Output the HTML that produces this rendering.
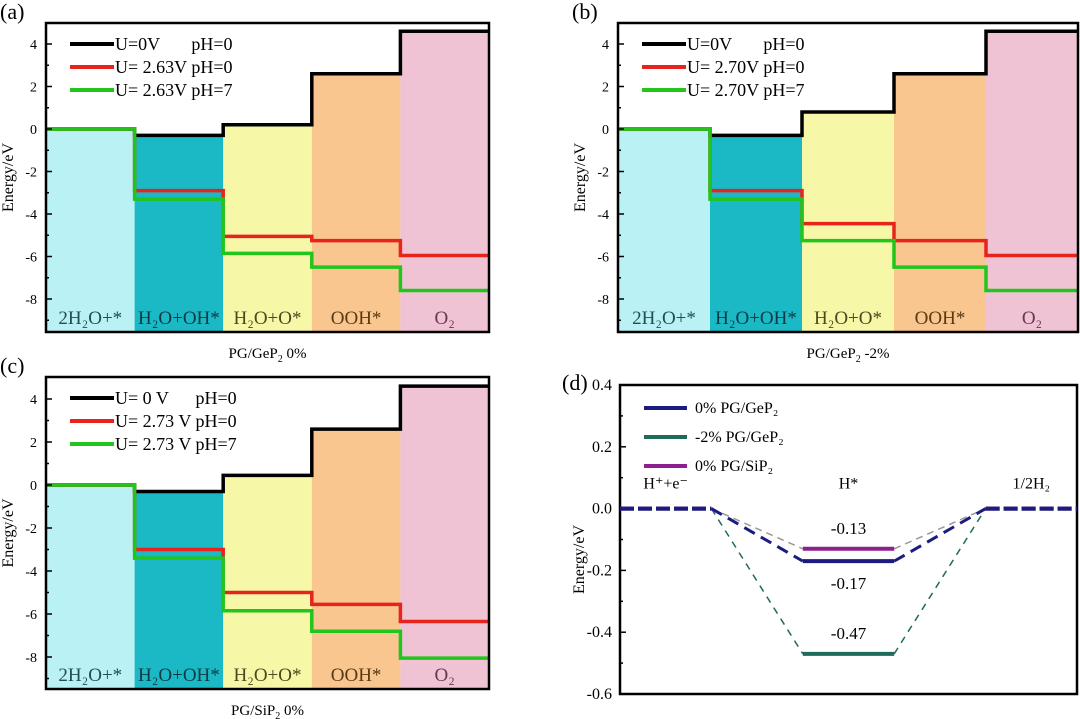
<!DOCTYPE html>
<html><head><meta charset="utf-8"><style>
html,body{margin:0;padding:0;background:#fff}
svg{display:block;font-family:"Liberation Serif",serif}
text{white-space:pre}
</style></head><body>
<svg id="c" width="1080" height="719" viewBox="0 0 1080 719"></svg>
<script>
const stages=["2H\u2082O+*","H\u2082O+OH*","H\u2082O+O*","OOH*","O\u2082"];
const yTicks=[4,2,0,-2,-4,-6,-8];
const aBlack=[0,-0.3,0.2,2.6,4.6], aRed=[0,-2.9,-5.05,-5.25,-5.95], aGreen=[0,-3.3,-5.85,-6.5,-7.6];
const bBlack=[0,-0.3,0.8,2.6,4.6], bRed=[0,-2.9,-4.45,-5.25,-5.95], bGreen=[0,-3.3,-5.25,-6.5,-7.6];
const cBlack=[0,-0.3,0.45,2.6,4.6], cRed=[0,-3.0,-5.0,-5.55,-6.35], cGreen=[0,-3.4,-5.85,-6.8,-8.05];
const aLeg=["U=0V       pH=0","U= 2.63V pH=0","U= 2.63V pH=7"];
const bLeg=["U=0V       pH=0","U= 2.70V pH=0","U= 2.70V pH=7"];
const cLeg=["U= 0 V      pH=0","U= 2.73 V pH=0","U= 2.73 V pH=7"];
const dStates=["H\u207a+e\u207b","H*","1/2H\u2082"];
const dGe0=[0,-0.17,0], dGe2=[0,-0.47,0], dSi0=[0,-0.13,0];
const dLabels=["0% PG/GeP\u2082","-2% PG/GeP\u2082","0% PG/SiP\u2082"];
const dTicks=[0.4,0.2,0.0,-0.2,-0.4,-0.6];
const svg=document.getElementById('c');
const NS='http://www.w3.org/2000/svg';
function el(t,a,p){const e=document.createElementNS(NS,t);for(const k in a)e.setAttribute(k,a[k]);(p||svg).appendChild(e);return e;}
const fills=["#b9f1f5","#1bb9c5","#f7f7a8","#f9c690","#efc3d4"];
const cols=["#000","#e8231c","#22c51c"];
function panel(id,x0,x1,y0,y1,yAt4,yAt0,series,leg,title,letter){
  const g=el('g',{});
  
  
  const k=(yAt0-yAt4)/4;
  const Y=v=>yAt0-v*k;
  const w=(x1-x0)/5;
  const X=i=>x0+i*w;
  const black=series[0];
  for(let i=0;i<5;i++){
    const top=i==0?Y(0):Y(black[i]);
    const r=el('rect',{x:X(i),y:top,width:w,height:y1-top,fill:fills[i]},g);
    
    
    const t=el('text',{x:X(i)+w/2,y:y1-8,'text-anchor':'middle','font-size':19,fill:['#1f4f55','#0d3a44','#4a4a20','#5a3a12','#6a3550'][i]},g);
    t.textContent=stages[i];
    
    
  }
  series.forEach((s,si)=>{
    let d='';
    s.forEach((v,i)=>{d+=(i?'L':'M')+X(i)+','+Y(v)+'L'+X(i+1)+','+Y(v);});
    const p=el('path',{d:d,fill:'none',stroke:cols[si],'stroke-width':3.5},g);
    
    
  });
  const b=el('rect',{x:x0,y:y0,width:x1-x0,height:y1-y0,fill:'none',stroke:'#000','stroke-width':2.5},g);
  
  
  yTicks.forEach(v=>{
    el('line',{x1:x0,x2:x0+6,y1:Y(v),y2:Y(v),stroke:'#000','stroke-width':1.5},g);
    el('line',{x1:x0,x2:x0+3,y1:Y(v-1),y2:Y(v-1),stroke:'#000','stroke-width':1.5},g);
    const t=el('text',{x:x0-9,y:Y(v)+5,'text-anchor':'end','font-size':14},g);
    t.textContent=v;
    
    
  });
  const yt=el('text',{transform:`translate(${x0-33},${(y0+y1)/2}) rotate(-90)`,'text-anchor':'middle','font-size':16},g);
  yt.textContent='Energy/eV';
  
  
  const xt=el('text',{x:(x0+x1)/2,y:y1+26,'text-anchor':'middle','font-size':15},g);
  xt.innerHTML=title;
  
  
  const lt=el('text',{x:x0-46,y:y0-4,'font-size':22},g);
  lt.textContent=letter;
  
  
  leg.forEach((s,i)=>{
    const yy=y0+21+i*23;
    const l=el('line',{x1:x0+24,x2:x0+68,y1:yy,y2:yy,stroke:cols[i],'stroke-width':4},g);
    
    
    const t=el('text',{x:x0+69,y:yy+6,'font-size':18},g);
    t.textContent=s;
    
    
  });
}
panel('a',46,489,23,332,44,129,[aBlack,aRed,aGreen],aLeg,'PG/GeP<tspan font-size="10" dy="4">2</tspan><tspan dy="-4"> 0%</tspan>','(a)');
panel('b',618,1078,23,332,44,129,[bBlack,bRed,bGreen],bLeg,'PG/GeP<tspan font-size="10" dy="4">2</tspan><tspan dy="-4"> -2%</tspan>','(b)');
panel('c',46,489,377,689,399,485,[cBlack,cRed,cGreen],cLeg,'PG/SiP<tspan font-size="10" dy="4">2</tspan><tspan dy="-4"> 0%</tspan>','(c)');
(function(){
  const x0=620,x1=1077,y0=385,y1=694;
  const g=el('g',{});
  
  
  const Y=v=>y0+(0.4-v)/1.0*(y1-y0);
  const w=(x1-x0)/5;
  const segX=[[x0,x0+w],[x0+2*w,x0+3*w],[x0+4*w,x1]];
  const b=el('rect',{x:x0,y:y0,width:x1-x0,height:y1-y0,fill:'none',stroke:'#000','stroke-width':2.5},g);
  
  
  dTicks.forEach(v=>{
    el('line',{x1:x0,x2:x0+6,y1:Y(v),y2:Y(v),stroke:'#000','stroke-width':1.5},g);
    el('line',{x1:x0,x2:x0+3,y1:Y(v-0.1),y2:Y(v-0.1),stroke:'#000','stroke-width':1.5},g);
    const t=el('text',{x:x0-8,y:Y(v)+5,'text-anchor':'end','font-size':16},g);
    t.textContent=v.toFixed(1);
    
    
  });
  const yt=el('text',{transform:`translate(${x0-36},${(y0+y1)/2+20}) rotate(-90)`,'text-anchor':'middle','font-size':16},g);
  yt.textContent='Energy/eV';
  
  
  const lt=el('text',{x:x0-58,y:y0+5,'font-size':22},g);
  lt.textContent='(d)';
  
  
  const order=[[dGe2,'#1f6b59',1.5,'7,6'],[dSi0,'#999',1.5,'7,5'],[dGe0,'#1c1c80',3,'12,7']];
  order.forEach(([s,c,sw,da])=>{
    for(let i=0;i<2;i++){
      const p=el('line',{x1:segX[i][1],y1:Y(s[i]),x2:segX[i+1][0],y2:Y(s[i+1]),stroke:c,'stroke-width':sw,'stroke-dasharray':da},g);
      
      
    }
  });
  const solid=[[dGe2,'#1f6b59'],[dSi0,'#8e1f8e'],[dGe0,'#1c1c80']];
  solid.forEach(([s,c])=>{
    s.forEach((v,i)=>{
      const l=el('line',{x1:segX[i][0],x2:segX[i][1],y1:Y(v),y2:Y(v),stroke:c,'stroke-width':4,'stroke-dasharray':i==1?'none':'14,4'},g);
      
      
    });
  });
  [[dSi0,-20],[dGe0,28],[dGe2,-20]].forEach(([s,off])=>{
    const t=el('text',{x:(segX[1][0]+segX[1][1])/2,y:Y(s[1])+off+(off<0?5:0),'text-anchor':'middle','font-size':17},g);
    t.textContent=s[1].toFixed(2);
    
    
  });
  dStates.forEach((s,i)=>{
    const t=el('text',{x:(segX[i][0]+segX[i][1])/2,y:Y(0)-20,'text-anchor':'middle','font-size':16},g);
    t.textContent=s;
    
    
  });
  const lcol=['#1c1c80','#1f6b59','#8e1f8e'];
  dLabels.forEach((s,i)=>{
    const yy=y0+23+i*29;
    const l=el('line',{x1:x0+24,x2:x0+67,y1:yy,y2:yy,stroke:lcol[i],'stroke-width':4},g);
    
    
    const t=el('text',{x:x0+75,y:yy+5,'font-size':16},g);
    t.textContent=s;
    
    
  });
})();
</script>
</body></html>
